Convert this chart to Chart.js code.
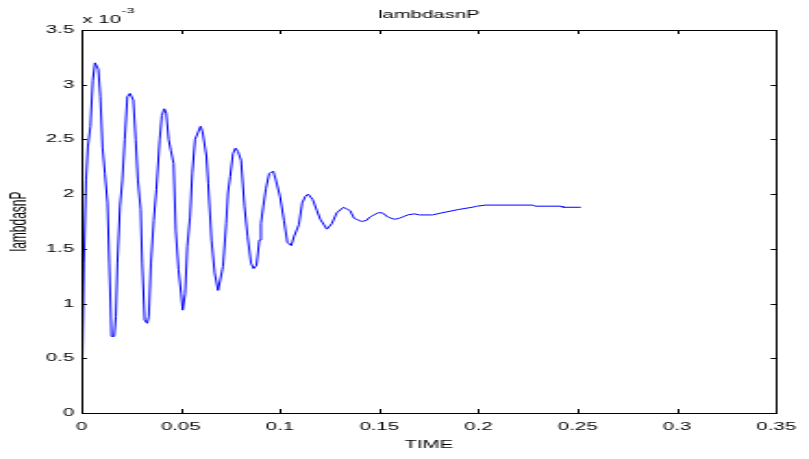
<!DOCTYPE html>
<html>
<head>
<meta charset="utf-8">
<script src="https://cdn.jsdelivr.net/npm/chart.js@4.4.1/dist/chart.umd.min.js"></script>
<style>
  html, body { margin: 0; padding: 0; background: #fff; overflow: hidden; }
  /* the reference figure is stretched sideways, so draw narrow and scale */
  #wrap { width: 437px; height: 459px; transform: scaleX(1.8513); transform-origin: 0 0; }
</style>
</head>
<body>
<div id="wrap"><canvas id="chart"></canvas></div>
<script>
// time (s) and lambdasnP (x 10^-3)
const timeValues = [
  0, 0.0002, 0.0012, 0.0023, 0.0032, 0.0045, 0.0057, 0.0068, 0.0073, 0.0085,
  0.0095, 0.0106, 0.0118, 0.0131, 0.0140, 0.0151, 0.0165, 0.0173, 0.0181, 0.0194,
  0.0206, 0.0218, 0.0231, 0.0244, 0.0251, 0.0261, 0.0273, 0.0284, 0.0298, 0.0306,
  0.0318, 0.0331, 0.0339, 0.0350, 0.0364, 0.0377, 0.0394, 0.0405, 0.0417, 0.0427,
  0.0439, 0.0450, 0.0464, 0.0475, 0.0489, 0.0502, 0.0510, 0.0522, 0.0533, 0.0547,
  0.0558, 0.0572, 0.0600, 0.0610, 0.0630, 0.0638, 0.0655, 0.0671, 0.0688, 0.0713,
  0.0729, 0.0738, 0.0749, 0.0763, 0.0776, 0.0788, 0.0804, 0.0821, 0.0837, 0.0854,
  0.0867, 0.0882, 0.0896, 0.0904, 0.0916, 0.0929, 0.0946, 0.0966, 0.0979, 0.1000,
  0.1020, 0.1037, 0.1057, 0.1070, 0.1095, 0.1112, 0.1128, 0.1142, 0.1165, 0.1186,
  0.1203, 0.1236, 0.1261, 0.1286, 0.1320, 0.1353, 0.1373, 0.1411, 0.1436, 0.1452,
  0.1494, 0.1515, 0.1544, 0.1577, 0.1602, 0.1643, 0.1677, 0.1702, 0.1768, 0.1818,
  0.1901, 0.1968, 0.1993, 0.2034, 0.2275, 0.2283, 0.2416, 0.2424, 0.2516
];
const lambdaValues = [
  0, 0.15, 1.37, 2.13, 2.43, 2.62, 3.04, 3.20, 3.20, 3.14,
  2.89, 2.43, 2.19, 1.92, 1.37, 0.70, 0.70, 0.88, 1.37, 1.89,
  2.13, 2.50, 2.89, 2.92, 2.92, 2.86, 2.50, 2.13, 1.86, 1.37,
  0.85, 0.82, 0.88, 1.37, 1.76, 2.04, 2.50, 2.72, 2.78, 2.74,
  2.50, 2.40, 2.28, 1.67, 1.31, 1.09, 0.94, 1.09, 1.52, 1.79,
  2.19, 2.50, 2.62, 2.57, 2.34, 2.10, 1.58, 1.28, 1.12, 1.34,
  1.73, 2.01, 2.16, 2.37, 2.42, 2.39, 2.31, 1.89, 1.61, 1.37,
  1.32, 1.35, 1.58, 1.73, 1.89, 2.05, 2.19, 2.21, 2.13, 1.98,
  1.76, 1.56, 1.53, 1.61, 1.72, 1.92, 1.98, 2.00, 1.95, 1.85,
  1.77, 1.68, 1.73, 1.83, 1.88, 1.85, 1.78, 1.75, 1.76, 1.79,
  1.83, 1.83, 1.79, 1.77, 1.78, 1.81, 1.82, 1.81, 1.81, 1.83,
  1.86, 1.88, 1.89, 1.90, 1.90, 1.89, 1.89, 1.88, 1.88
];
const xTicks = [0, 0.05, 0.1, 0.15, 0.2, 0.25, 0.3, 0.35];
const yTicks = [0, 0.5, 1, 1.5, 2, 2.5, 3, 3.5];

const FONT = 'Arial, "Liberation Sans", sans-serif';

// box, inward tick marks, title and exponent label
const matlabAxes = {
  id: 'matlabAxes',
  afterDraw(chart) {
    const { ctx, chartArea: a, scales } = chart;
    ctx.save();
    ctx.strokeStyle = '#000';
    ctx.lineWidth = 1;
    ctx.beginPath();
    xTicks.forEach(t => {
      const x = Math.round(scales.x.getPixelForValue(t)) + 0.5;
      ctx.moveTo(x, a.bottom); ctx.lineTo(x, a.bottom - 4);
      ctx.moveTo(x, a.top); ctx.lineTo(x, a.top + 4);
    });
    yTicks.forEach(v => {
      const y = Math.round(scales.y.getPixelForValue(v)) + 0.5;
      ctx.moveTo(a.left, y); ctx.lineTo(a.left + 3, y);
      ctx.moveTo(a.right, y); ctx.lineTo(a.right - 3, y);
    });
    ctx.stroke();
    ctx.strokeRect(Math.round(a.left) + 0.5, Math.round(a.top) + 0.5,
      Math.round(a.right - a.left), Math.round(a.bottom - a.top));

    ctx.fillStyle = '#000';
    ctx.font = '11px ' + FONT;
    ctx.textAlign = 'center';
    ctx.textBaseline = 'alphabetic';
    ctx.fillText('lambdasnP', (a.left + a.right) / 2, 18);
    ctx.textAlign = 'left';
    ctx.fillText('x 10', a.left + 0.5, 23);
    ctx.font = '8px ' + FONT;
    ctx.fillText('-3', a.left + 21.5, 13);
    ctx.restore();
  }
};

new Chart(document.getElementById('chart'), {
  type: 'line',
  data: {
    datasets: [{
      data: timeValues.map((t, i) => ({ x: t, y: lambdaValues[i] })),
      borderColor: '#0000ff',
      borderWidth: 1,
      pointRadius: 0,
      tension: 0,
      fill: false
    }]
  },
  options: {
    responsive: true,
    maintainAspectRatio: false,
    animation: false,
    layout: { padding: { top: 30, right: 13, left: 0, bottom: 0 } },
    plugins: { legend: { display: false }, tooltip: { enabled: false } },
    scales: {
      x: {
        type: 'linear',
        min: 0, max: 0.35,
        afterFit: s => { s.height = 46; },
        afterBuildTicks: s => { s.ticks = xTicks.map(v => ({ value: v })); },
        grid: { display: false, drawTicks: false },
        border: { display: false },
        ticks: {
          color: '#000', font: { family: FONT, size: 11 }, padding: 7,
          maxRotation: 0, autoSkip: false,
          callback: v => String(Number(v.toFixed(2)))
        },
        title: { display: true, text: 'TIME', color: '#000', font: { family: FONT, size: 11 }, padding: { top: 2, bottom: 7 } }
      },
      y: {
        min: 0, max: 3.5,
        afterFit: s => { s.width = 44; },
        afterBuildTicks: s => { s.ticks = yTicks.map(v => ({ value: v })); },
        grid: { display: false, drawTicks: false },
        border: { display: false },
        ticks: {
          color: '#000', font: { family: FONT, size: 11 }, padding: 4,
          callback: v => String(v)
        },
        title: { display: true, text: 'lambdasnP', color: '#000', font: { family: FONT, size: 12 }, padding: { top: 3, bottom: 0 } }
      }
    }
  },
  plugins: [matlabAxes]
});
</script>
</body>
</html>
